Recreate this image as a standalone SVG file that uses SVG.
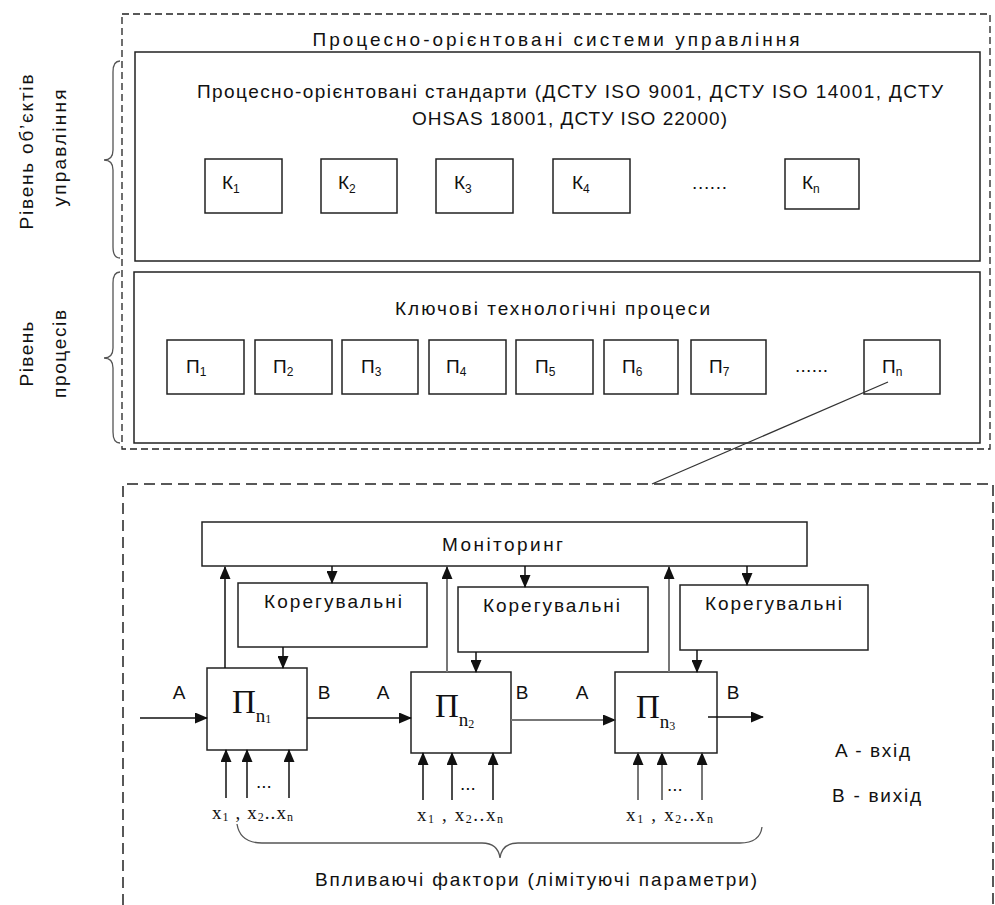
<svg xmlns="http://www.w3.org/2000/svg" width="995" height="905" viewBox="0 0 995 905">
<style>
.bx{fill:#fff;stroke:#222;stroke-width:1.5}
.bn{fill:none;stroke:#222;stroke-width:1.5}
.d1{fill:none;stroke:#222;stroke-width:1.3;stroke-dasharray:7,4}
.d2{fill:none;stroke:#222;stroke-width:1.5;stroke-dasharray:11,6}
.br{fill:none;stroke:#555;stroke-width:1.3}
.t{font-family:"Liberation Sans",Arial,sans-serif;font-size:19px;fill:#111}
.c{text-anchor:middle}
.s{font-size:12px}
.sf{font-family:"Liberation Serif","Times New Roman",serif;fill:#111}
.ar{stroke:#111;stroke-width:1.5;fill:none}
.ag{stroke:#777;stroke-width:2;fill:none}
</style>
<defs>
<marker id="ah" markerUnits="userSpaceOnUse" markerWidth="13" markerHeight="11" refX="12" refY="5.5" orient="auto">
<path d="M0,0 L13,5.5 L0,11 Z" fill="#111"/>
</marker>
</defs>

<g id="top-frame">
<rect class="d1" x="122" y="14" width="868" height="435"/>
<text class="t c" x="556" y="46" textLength="487">Процесно-орієнтовані системи управління</text>
</g>

<g id="left-labels">
<path class="br" d="M120,61 Q113,61 113,72 L113,150 Q113,160 104,160 Q113,160 113,170 L113,247 Q113,258 120,258"/>
<path class="br" d="M120,272 Q113,272 113,283 L113,348 Q113,358 104,358 Q113,358 113,368 L113,432 Q113,443 120,443"/>
<text class="t c" transform="translate(33,152) rotate(-90)" textLength="155">Рівень об’єктів</text>
<text class="t c" transform="translate(66,148) rotate(-90)" textLength="117">управління</text>
<text class="t c" transform="translate(33,354) rotate(-90)" textLength="65">Рівень</text>
<text class="t c" transform="translate(66,354) rotate(-90)" textLength="88">процесів</text>
</g>

<g id="standards">
<rect class="bn" x="135" y="52" width="845" height="209"/>
<text class="t" x="197" y="98" textLength="746">Процесно-орієнтовані стандарти (ДСТУ ISO 9001, ДСТУ ISO 14001, ДСТУ</text>
<text class="t" x="412" y="125" textLength="315">OHSAS 18001, ДСТУ ISO 22000)</text>
</g>
<g id="K1"><rect class="bn" x="205" y="159" width="77" height="54"/><text class="t" x="222" y="189">К<tspan class="s" dy="4">1</tspan></text></g>
<g id="K2"><rect class="bn" x="321" y="159" width="76" height="54"/><text class="t" x="338" y="189">К<tspan class="s" dy="4">2</tspan></text></g>
<g id="K3"><rect class="bn" x="436" y="159" width="77" height="54"/><text class="t" x="454" y="189">К<tspan class="s" dy="4">3</tspan></text></g>
<g id="K4"><rect class="bn" x="553" y="159" width="77" height="54"/><text class="t" x="572" y="189">К<tspan class="s" dy="4">4</tspan></text></g>
<text class="t" x="692" y="189" textLength="35">......</text>
<g id="Kn"><rect class="bn" x="785" y="159" width="74" height="50"/><text class="t" x="802" y="189">К<tspan class="s" dy="4">n</tspan></text></g>

<g id="processes">
<rect class="bn" x="134" y="272" width="846" height="171"/>
<text class="t" x="395" y="315" textLength="315">Ключові технологічні процеси</text>
</g>
<g id="P1"><rect class="bn" x="167" y="340" width="77" height="54"/><text class="t" x="186" y="373">П<tspan class="s" dy="3">1</tspan></text></g>
<g id="P2"><rect class="bn" x="255" y="340" width="77" height="54"/><text class="t" x="273" y="373">П<tspan class="s" dy="3">2</tspan></text></g>
<g id="P3"><rect class="bn" x="342" y="340" width="76" height="54"/><text class="t" x="361" y="373">П<tspan class="s" dy="3">3</tspan></text></g>
<g id="P4"><rect class="bn" x="429" y="340" width="77" height="54"/><text class="t" x="446" y="373">П<tspan class="s" dy="3">4</tspan></text></g>
<g id="P5"><rect class="bn" x="516" y="340" width="77" height="54"/><text class="t" x="535" y="373">П<tspan class="s" dy="3">5</tspan></text></g>
<g id="P6"><rect class="bn" x="604" y="340" width="74" height="54"/><text class="t" x="622" y="373">П<tspan class="s" dy="3">6</tspan></text></g>
<g id="P7"><rect class="bn" x="691" y="340" width="75" height="54"/><text class="t" x="709" y="373">П<tspan class="s" dy="3">7</tspan></text></g>
<text class="t" x="795" y="372" textLength="33">......</text>
<g id="Pn"><rect class="bn" x="864" y="340" width="76" height="54"/><text class="t" x="882" y="373">П<tspan class="s" dy="3">n</tspan></text></g>

<g id="bottom-frame">
<path class="d2" d="M123,905 V484 H993 V905"/>
</g>

<g id="monitoring"><rect class="bn" x="202" y="522" width="605" height="44"/><text class="t" x="442" y="551" textLength="121">Моніторинг</text></g>
<g id="kor1"><rect class="bn" x="238" y="583" width="189" height="64"/><text class="t" x="264" y="608" textLength="138">Корегувальні</text></g>
<g id="kor2"><rect class="bn" x="458" y="587" width="190" height="65"/><text class="t" x="483" y="612" textLength="137">Корегувальні</text></g>
<g id="kor3"><rect class="bn" x="680" y="585" width="188" height="65"/><text class="t" x="705" y="610" textLength="137">Корегувальні</text></g>

<g id="Pn1"><rect class="bn" x="207" y="668" width="100" height="82"/>
<text class="sf" x="232" y="713" font-size="33">П<tspan font-size="19" dy="9">n</tspan><tspan font-size="12" dy="1">1</tspan></text></g>
<g id="Pn2"><rect class="bn" x="411" y="672" width="100" height="81"/>
<text class="sf" x="435" y="717" font-size="33">П<tspan font-size="19" dy="9">n</tspan><tspan font-size="12" dy="2">2</tspan></text></g>
<g id="Pn3"><rect class="bn" x="615" y="672" width="102" height="81"/>
<text class="sf" x="636" y="718" font-size="33">П<tspan font-size="19" dy="10">n</tspan><tspan font-size="12" dy="2">3</tspan></text></g>

<g id="connectors">
<line x1="888" y1="382" x2="652" y2="484" stroke="#333" stroke-width="1.3"/>
<line class="ar" x1="225" y1="668" x2="225" y2="567" marker-end="url(#ah)"/>
<line class="ag" x1="447" y1="672" x2="447" y2="567" marker-end="url(#ah)"/>
<line class="ag" x1="669" y1="672" x2="669" y2="567" marker-end="url(#ah)"/>
<line class="ar" x1="332" y1="566" x2="332" y2="583" marker-end="url(#ah)"/>
<line class="ar" x1="525" y1="566" x2="525" y2="587" marker-end="url(#ah)"/>
<line class="ar" x1="747" y1="566" x2="747" y2="585" marker-end="url(#ah)"/>
<line class="ar" x1="283" y1="647" x2="283" y2="668" marker-end="url(#ah)"/>
<line class="ar" x1="476" y1="652" x2="476" y2="672" marker-end="url(#ah)"/>
<line class="ar" x1="697" y1="650" x2="697" y2="672" marker-end="url(#ah)"/>
<line class="ar" x1="140" y1="718" x2="207" y2="718" marker-end="url(#ah)"/>
<line class="ar" x1="307" y1="718" x2="411" y2="718" marker-end="url(#ah)"/>
<line class="ag" x1="511" y1="720" x2="615" y2="720" marker-end="url(#ah)"/>
<line class="ar" x1="708" y1="717" x2="763" y2="717" marker-end="url(#ah)"/>
<line class="ar" x1="226" y1="798" x2="226" y2="750" marker-end="url(#ah)"/>
<line class="ar" x1="247" y1="798" x2="247" y2="750" marker-end="url(#ah)"/>
<line class="ar" x1="289" y1="798" x2="289" y2="750" marker-end="url(#ah)"/>
<line class="ar" x1="423" y1="800" x2="423" y2="753" marker-end="url(#ah)"/>
<line class="ar" x1="452" y1="800" x2="452" y2="753" marker-end="url(#ah)"/>
<line class="ar" x1="493" y1="800" x2="493" y2="753" marker-end="url(#ah)"/>
<line class="ag" x1="638" y1="800" x2="638" y2="753" marker-end="url(#ah)"/>
<line class="ag" x1="662" y1="800" x2="662" y2="753" marker-end="url(#ah)"/>
<line class="ag" x1="702" y1="800" x2="702" y2="753" marker-end="url(#ah)"/>
<path class="br" d="M237,824 Q240,843 262,843 L482,843 Q498,843 500,858 Q502,843 518,843 L740,843 Q760,843 762,827"/>
</g>

<g id="labels">
<text class="t c" x="179" y="699">A</text>
<text class="t c" x="324" y="699">B</text>
<text class="t c" x="383" y="699">A</text>
<text class="t c" x="522" y="699">B</text>
<text class="t c" x="582" y="699">A</text>
<text class="t c" x="733" y="699">B</text>
<text class="t" x="256" y="788" font-size="14">...</text>
<text class="t" x="460" y="790" font-size="14">...</text>
<text class="t" x="667" y="791" font-size="14">...</text>
<text class="sf" x="212" y="819" font-size="19" textLength="81">x<tspan font-size="12" dy="2">1</tspan><tspan dy="-2"> , </tspan>x<tspan font-size="12" dy="2">2</tspan><tspan dy="-2">..</tspan>x<tspan font-size="12" dy="2">n</tspan></text>
<text class="sf" x="417" y="821" font-size="19" textLength="86">x<tspan font-size="12" dy="2">1</tspan><tspan dy="-2"> , </tspan>x<tspan font-size="12" dy="2">2</tspan><tspan dy="-2">..</tspan>x<tspan font-size="12" dy="2">n</tspan></text>
<text class="sf" x="626" y="821" font-size="19" textLength="87">x<tspan font-size="12" dy="2">1</tspan><tspan dy="-2"> , </tspan>x<tspan font-size="12" dy="2">2</tspan><tspan dy="-2">..</tspan>x<tspan font-size="12" dy="2">n</tspan></text>
<text class="t" x="315" y="886" textLength="442">Впливаючі фактори (лімітуючі параметри)</text>
<text class="t" x="835" y="757" textLength="75">A - вхід</text>
<text class="t" x="832" y="802" textLength="89">B - вихід</text>
</g>
</svg>
